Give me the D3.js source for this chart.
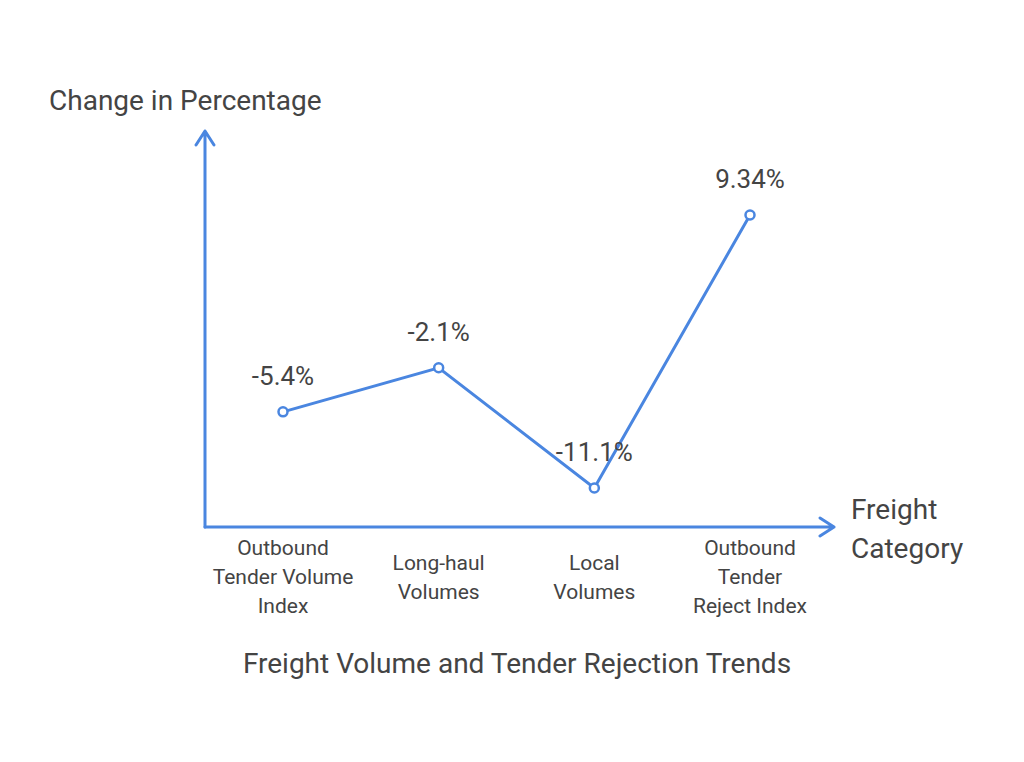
<!DOCTYPE html>
<html>
<head>
<meta charset="UTF-8">
<script src="https://d3js.org/d3.v7.min.js"></script>
<style>
  body { margin: 0; background: #fff; }
  svg { display: block; font-family: Roboto, sans-serif; }
</style>
</head>
<body>
<svg id="chart" width="1024" height="762"></svg>
<script>
const categories = [
  ["Outbound", "Tender Volume", "Index"],
  ["Long-haul", "Volumes"],
  ["Local", "Volumes"],
  ["Outbound", "Tender", "Reject Index"]
];
const values = [-5.4, -2.1, -11.1, 9.34];
const valueLabels = ["-5.4%", "-2.1%", "-11.1%", "9.34%"];

const blue = "#4a86e0", ink = "#444";
const svg = d3.select("#chart");
const ox = 205, oy = 527;

const x = d3.scalePoint().domain(d3.range(categories.length)).range([283, 750]);
const y = d3.scaleLinear().domain([-11.1, 9.34]).range([488, 215]);

// axes with arrows
svg.append("path").attr("d", `M${ox},${oy}V131M${ox - 9},${145}L${ox},131L${ox + 9},145`)
  .attr("fill", "none").attr("stroke", blue).attr("stroke-width", 3).attr("stroke-linecap", "round").attr("stroke-linejoin", "round");
svg.append("path").attr("d", `M${ox},${oy}H834M820,${oy - 9}L834,${oy}L820,${oy + 9}`)
  .attr("fill", "none").attr("stroke", blue).attr("stroke-width", 3).attr("stroke-linecap", "round").attr("stroke-linejoin", "round");

const pts = values.map((v, i) => [x(i), y(v)]);
svg.append("path").attr("d", d3.line()(pts))
  .attr("fill", "none").attr("stroke", blue).attr("stroke-width", 3);
svg.selectAll("circle.pt").data(pts).enter().append("circle")
  .attr("cx", d => d[0]).attr("cy", d => d[1]).attr("r", 4.5)
  .attr("fill", "#fff").attr("stroke", blue).attr("stroke-width", 2.5);

svg.selectAll("text.val").data(values).enter().append("text")
  .attr("x", (d, i) => x(i)).attr("y", d => y(d) - 27)
  .attr("text-anchor", "middle").attr("font-size", 26).attr("fill", ink)
  .text((d, i) => valueLabels[i]);

categories.forEach((lines, i) => {
  const t = svg.append("text").attr("text-anchor", "middle").attr("font-size", 21).attr("fill", ink);
  const y0 = 584 - (lines.length - 1) * 29 / 2;
  lines.forEach((s, j) => t.append("tspan").attr("x", x(i)).attr("y", y0 + j * 29).text(s));
});

svg.append("text").attr("x", 49).attr("y", 110).attr("font-size", 28).attr("fill", ink).text("Change in Percentage");
svg.append("text").attr("x", 851).attr("y", 519).attr("font-size", 28).attr("fill", ink).text("Freight");
svg.append("text").attr("x", 851).attr("y", 558).attr("font-size", 28).attr("fill", ink).text("Category");
svg.append("text").attr("x", 517).attr("y", 673).attr("text-anchor", "middle").attr("font-size", 28).attr("fill", ink)
  .text("Freight Volume and Tender Rejection Trends");
</script>
</body>
</html>
